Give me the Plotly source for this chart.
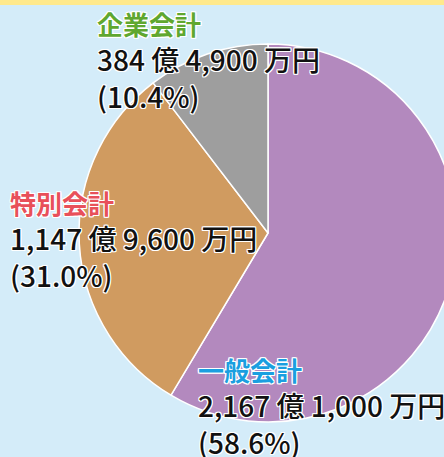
import plotly.graph_objects as go

# data
categories = ["一般会計", "特別会計", "企業会計"]
values_oku = [2167.10, 1147.96, 384.49]          # 億円
amount_labels = ["2,167 億 1,000 万円", "1,147 億 9,600 万円", "384 億 4,900 万円"]
pct_labels = ["(58.6%)", "(31.0%)", "(10.4%)"]
slice_colors = ["#B389BE", "#D09B60", "#9E9E9E"]
title_colors = ["#1A9FE0", "#E8505A", "#5FA72F"]

W, H = 460, 457
BG = "#D4ECF9"

# pie placement (pixels from left / top)
cx, cy, r = 268, 233, 189
fig = go.Figure(go.Pie(
    labels=categories,
    values=values_oku,
    sort=False,
    direction="clockwise",
    rotation=0,
    marker=dict(colors=slice_colors, line=dict(color="white", width=1.5)),
    textinfo="none",
    hoverinfo="label+percent",
    showlegend=False,
    domain=dict(x=[(cx - r) / W, (cx + r) / W], y=[(H - cy - r) / H, (H - cy + r) / H]),
))

# label positions: left x px, top y px of label block
label_pos = [(196, 349), (8, 182), (95, 3)]
outline = "1px 1px 0 #fff, -1px -1px 0 #fff, 1px -1px 0 #fff, -1px 1px 0 #fff, 0 1px 0 #fff, 0 -1px 0 #fff, 1px 0 0 #fff, -1px 0 0 #fff"
fam = "Noto Sans CJK JP"
ann = []
for i, cat in enumerate(categories):
    x0, y0 = label_pos[i]
    txt = (f"<span style='font-size:26px;color:{title_colors[i]}'><b>{cat}</b></span><br>"
           f"{amount_labels[i]}<br>{pct_labels[i]}")
    ann.append(dict(
        text=txt, x=x0 / W, y=1 - y0 / H, xref="paper", yref="paper",
        xanchor="left", yanchor="top", align="left", showarrow=False,
        font=dict(family=fam, size=28, color="#111111", weight=500, shadow=outline),
    ))

fig.update_layout(
    width=W, height=H,
    margin=dict(l=0, r=0, t=0, b=0),
    paper_bgcolor=BG, plot_bgcolor=BG,
    annotations=ann,
    shapes=[dict(type="rect", xref="paper", yref="paper", x0=0, x1=1, y0=1 - 5 / H, y1=1,
                 fillcolor="#FFE98C", line=dict(width=0), layer="below")],
)
fig.write_html("out.html")
